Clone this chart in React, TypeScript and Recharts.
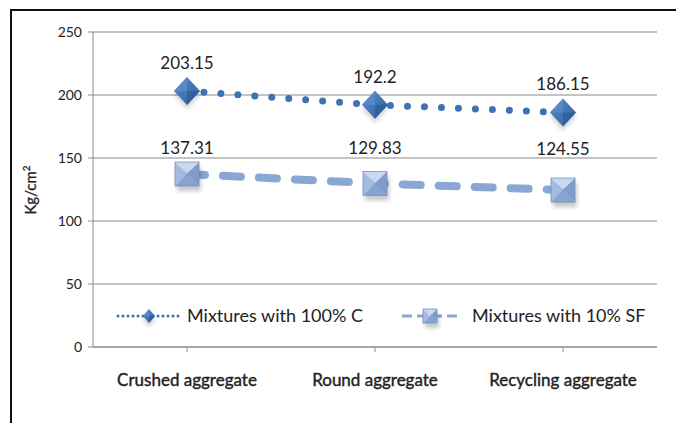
import { CartesianGrid, LabelList, Line, LineChart, XAxis, YAxis } from 'recharts';

const categories = ['Crushed aggregate', 'Round aggregate', 'Recycling  aggregate'];
const cementValues = [203.15, 192.2, 186.15];
const silicaValues = [137.31, 129.83, 124.55];
const yTicks = [0, 50, 100, 150, 200, 250];

const seriesNames = ['Mixtures with 100% C', 'Mixtures with 10% SF'];

const chartData = categories.map((name, i) => ({
  name,
  cement: cementValues[i],
  silica: silicaValues[i],
}));

const FONT = 'Lato, "Open Sans", sans-serif';
const DOT_BLUE = '#3F72B2';
const DASH_BLUE = '#8AA6D3';
// label lifts above each square marker (labels sit on one row in the source)
const sfLabelLift = [26, 35, 41];

const Diamond = ({ cx, cy, size = 13 }: any) => {
  if (cx == null || cy == null) return null;
  const w = size;
  const h = size + 1;
  return (
    <g>
      <polygon
        points={`${cx},${cy - h + 4} ${cx + w},${cy + 4} ${cx},${cy + h + 4} ${cx - w},${cy + 4}`}
        fill="#000"
        opacity={0.18}
        filter="url(#soft)"
      />
      <polygon points={`${cx},${cy - h} ${cx + w},${cy} ${cx},${cy + h} ${cx - w},${cy}`} fill="url(#diamondFill)" />
      <polygon points={`${cx},${cy - h} ${cx - w},${cy} ${cx},${cy}`} fill="#5E91D0" opacity={0.6} />
      <polygon points={`${cx},${cy} ${cx + w},${cy} ${cx},${cy + h}`} fill="#24538F" opacity={0.5} />
    </g>
  );
};

const PyramidSquare = ({ cx, cy, size = 12 }: any) => {
  if (cx == null || cy == null) return null;
  const s = size;
  const l = cx - s;
  const r = cx + s;
  const t = cy - s;
  const b = cy + s;
  return (
    <g>
      <rect x={l + 2} y={t + 5} width={2 * s} height={2 * s} fill="#000" opacity={0.22} filter="url(#soft)" />
      <polygon points={`${l},${t} ${r},${t} ${cx},${cy}`} fill="#C9D8EF" />
      <polygon points={`${l},${t} ${cx},${cy} ${l},${b}`} fill="#A3BBE0" />
      <polygon points={`${r},${t} ${r},${b} ${cx},${cy}`} fill="#7F9CCB" />
      <polygon points={`${l},${b} ${cx},${cy} ${r},${b}`} fill="#87A3D0" />
      <rect x={l} y={t} width={2 * s} height={2 * s} fill="none" stroke="#7592C2" strokeWidth={0.8} />
    </g>
  );
};

const XTick = ({ x, y, payload }: any) => (
  <text
    x={x}
    y={y + 32}
    textAnchor="middle"
    fontFamily={FONT}
    fontSize={17}
    fill="#222"
    stroke="#222"
    strokeWidth={0.4}
  >
    {payload.value}
  </text>
);

const YTick = ({ x, y, payload }: any) => (
  <text x={x - 4} y={y + 5} textAnchor="end" fontFamily={FONT} fontSize={14} fill="#222">
    {payload.value}
  </text>
);

const YLabel = () => (
  <text
    transform="translate(36,190) rotate(-90)"
    textAnchor="middle"
    fontFamily={FONT}
    fontSize={15}
    fill="#222"
    stroke="#222"
    strokeWidth={0.3}
  >
    Kg/cm
    <tspan fontSize={10} dy={-6}>
      2
    </tspan>
  </text>
);

const CementLabel = ({ x, y, value }: any) => (
  <text x={x} y={y - 22} textAnchor="middle" fontFamily={FONT} fontSize={17} fill="#222">
    {value}
  </text>
);

const SilicaLabel = ({ x, y, value, index }: any) => (
  <text x={x} y={y - sfLabelLift[index] + 6} textAnchor="middle" fontFamily={FONT} fontSize={17} fill="#222">
    {value}
  </text>
);

const ChartLegend = () => (
  <svg width={560} height={26} style={{ display: 'block', overflow: 'visible' }}>
    <line x1={6} y1={12} x2={68} y2={12} stroke={DOT_BLUE} strokeWidth={3} strokeDasharray="0 5" strokeLinecap="round" />
    <Diamond cx={37} cy={12} size={6} />
    <text x={75} y={18} fontFamily={FONT} fontSize={18} fill="#222">
      {seriesNames[0]}
    </text>
    <line x1={290} y1={12} x2={350} y2={12} stroke={DASH_BLUE} strokeWidth={3} strokeDasharray="10 5" />
    <PyramidSquare cx={318} cy={12} size={7} />
    <text x={360} y={18} fontFamily={FONT} fontSize={18} fill="#222">
      {seriesNames[1]}
    </text>
  </svg>
);

export default function App() {
  return (
    <div style={{ position: 'absolute', left: 0, top: 0, width: 676, height: 423, overflow: 'hidden', background: '#fff' }}>
      <div
        style={{
          position: 'absolute',
          left: 10,
          top: 9,
          width: 700,
          height: 500,
          borderLeft: '2px solid #111',
          borderTop: '2px solid #111',
        }}
      />
      <div style={{ position: 'absolute', left: 0, top: 0 }}>
        <LineChart width={676} height={423} data={chartData} margin={{ top: 32, right: 19, left: 53, bottom: 36 }}>
          <defs>
            <linearGradient id="diamondFill" x1="0" y1="0" x2="1" y2="1">
              <stop offset="0%" stopColor="#5B8ED0" />
              <stop offset="100%" stopColor="#2D5C9A" />
            </linearGradient>
            <filter id="soft" x="-50%" y="-50%" width="200%" height="200%">
              <feGaussianBlur stdDeviation="2" />
            </filter>
          </defs>
          <CartesianGrid vertical={false} stroke="#8A8A8A" strokeWidth={1.2} />
          <XAxis
            dataKey="name"
            padding={{ left: 94, right: 94 }}
            stroke="#8A8A8A"
            tickSize={5}
            tick={<XTick />}
            height={40}
            interval={0}
          />
          <YAxis
            domain={[0, 250]}
            ticks={yTicks}
            stroke="#8A8A8A"
            tickSize={5}
            tick={<YTick />}
            width={40}
            label={<YLabel />}
          />
          <Line
            dataKey="silica"
            name={seriesNames[1]}
            stroke={DASH_BLUE}
            strokeWidth={8}
            strokeDasharray="18 18"
            strokeLinecap="round"
            dot={<PyramidSquare />}
            activeDot={false}
            isAnimationActive={false}
          >
            <LabelList dataKey="silica" content={<SilicaLabel />} />
          </Line>
          <Line
            dataKey="cement"
            name={seriesNames[0]}
            stroke={DOT_BLUE}
            strokeWidth={7}
            strokeDasharray="0 17"
            strokeLinecap="round"
            dot={<Diamond />}
            activeDot={false}
            isAnimationActive={false}
          >
            <LabelList dataKey="cement" content={<CementLabel />} />
          </Line>
        </LineChart>
      </div>
      <div style={{ position: 'absolute', left: 112, top: 304 }}>
        <ChartLegend />
      </div>
    </div>
  );
}
